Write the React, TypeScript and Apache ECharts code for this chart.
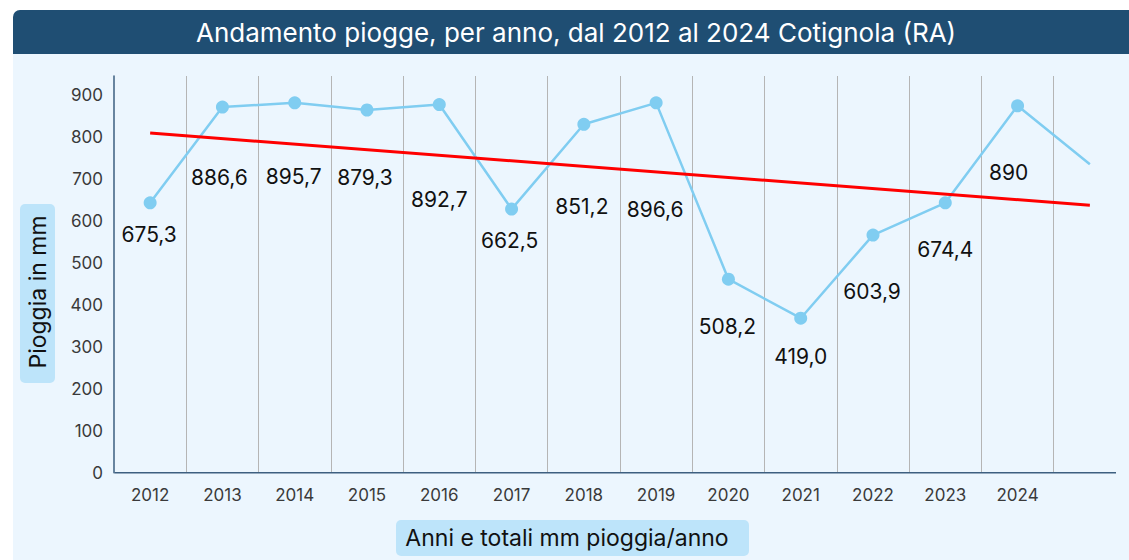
import React, { useEffect, useRef } from "react";
import * as echarts from "echarts";

const years = ["2012", "2013", "2014", "2015", "2016", "2017", "2018", "2019", "2020", "2021", "2022", "2023", "2024", ""];
const plottedValues = [643, 871, 881, 864, 877, 628, 830, 881, 461, 368, 566, 643, 874, 735];
const labelTexts = ["675,3", "886,6", "895,7", "879,3", "892,7", "662,5", "851,2", "896,6", "508,2", "419,0", "603,9", "674,4", "890"];
const labelOffsets = [[-1, 32], [-3, 70], [-1, 74], [-2, 67], [0, 95], [-2, 31], [-2, 82], [-1, 107], [-1, 47], [0, 38], [-1, 56], [0, 47], [-9, 67]];
const trendStart = 809;
const trendEnd = 637;
const yMax = 945;
const yInterval = 100;

const titleText = "Andamento piogge, per anno, dal 2012 al 2024 Cotignola (RA)";
const yName = "Pioggia in mm";
const xName = "Anni e totali mm pioggia/anno";

export default function App() {
  const ref = useRef<HTMLDivElement>(null);
  useEffect(() => {
    if (!ref.current) return;
    const chart = echarts.init(ref.current, null, { renderer: "svg" });
    const lineData = plottedValues.map((v, i) =>
      i < labelTexts.length
        ? { value: v, label: { show: true, formatter: labelTexts[i], offset: labelOffsets[i] } }
        : { value: v, symbol: "none", label: { show: false } }
    );
    const trendData = [
      [0, trendStart],
      [years.length - 1, trendEnd],
    ];
    chart.setOption({
      animation: false,
      backgroundColor: "#ffffff",
      grid: { left: 114, right: 3, top: 76, bottom: 87.3 },
      xAxis: {
        type: "category",
        data: years,
        boundaryGap: true,
        axisLine: { show: false },
        axisTick: { show: false },
        axisLabel: { color: "#3a3a3a", fontSize: 17, fontFamily: "Inter", margin: 14 },
        splitLine: { show: true, showMinLine: false, showMaxLine: false, lineStyle: { color: "#b5b5b5", width: 1 } },
      },
      yAxis: {
        type: "value",
        min: 0,
        max: yMax,
        interval: yInterval,
        axisLine: { show: true, lineStyle: { color: "#3d5f80", width: 1.5 } },
        axisTick: { show: false },
        splitLine: { show: false },
        axisLabel: { color: "#3a3a3a", fontSize: 17, fontFamily: "Inter", margin: 11, showMaxLabel: false },
      },
      graphic: [
        { type: "rect", z: -10, shape: { x: 13, y: 10, width: 1130, height: 560, r: [7, 0, 0, 0] }, style: { fill: "#ecf6fe" } },
        { type: "rect", z: -9, shape: { x: 13, y: 10, width: 1130, height: 44, r: [7, 0, 0, 0] }, style: { fill: "#1f4e73" } },
        { type: "text", z: 10, x: 576, y: 32, style: { text: titleText, fill: "#ffffff", font: "26px Inter", align: "center", verticalAlign: "middle" } },
        { type: "rect", z: -5, shape: { x: 20, y: 204, width: 35, height: 179, r: 5 }, style: { fill: "#bde4fa" } },
        { type: "text", z: 10, x: 37.5, y: 292, rotation: Math.PI / 2, style: { text: yName, fill: "#111111", font: "23px Inter", align: "center", verticalAlign: "middle" } },
        { type: "rect", z: -5, shape: { x: 396, y: 520, width: 353, height: 36, r: 5 }, style: { fill: "#bde4fa" } },
        { type: "text", z: 10, x: 567, y: 538, style: { text: xName, fill: "#111111", font: "23px Inter", align: "center", verticalAlign: "middle" } },
        { type: "line", z: 10, shape: { x1: 114.5, y1: 472.7, x2: 1116, y2: 472.7 }, style: { stroke: "#3d5f80", lineWidth: 1.5 } },
      ],
      series: [
        {
          type: "line",
          data: lineData,
          symbol: "circle",
          symbolSize: 13,
          itemStyle: { color: "#80cdf1" },
          lineStyle: { color: "#80cdf1", width: 2.5 },
          label: { position: "inside", color: "#111111", fontSize: 21, fontFamily: "Inter" },
          z: 3,
        },
        {
          type: "line",
          data: trendData,
          symbol: "none",
          lineStyle: { color: "#ff0000", width: 3 },
          z: 4,
          silent: true,
        },
      ],
    });
    return () => chart.dispose();
  }, []);
  return (
    <div style={{ position: "absolute", left: 0, top: 0, width: 1129, height: 560 }}>
      <div ref={ref} style={{ width: 1129, height: 560 }} />
    </div>
  );
}
